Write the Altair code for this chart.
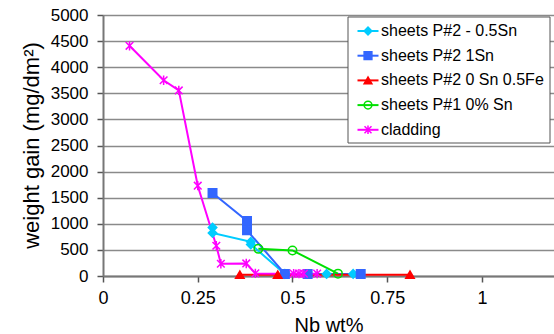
import altair as alt
import pandas as pd

series_names = ["sheets P#2 - 0.5Sn", "sheets P#2 1Sn", "sheets P#2 0 Sn 0.5Fe",
                "sheets P#1 0% Sn", "cladding"]
series_colors = ["#00CCFF", "#3366FF", "#FF0000", "#00E000", "#FF00FF"]
series_fills = ["#00CCFF", "#3366FF", "#FF0000", "transparent", "#FF00FF"]
asterisk = "M-0.9,-0.9L0.9,0.9M-0.9,0.9L0.9,-0.9M0,-1.1L0,1.1"
series_shapes = ["diamond", "square", "triangle-up", "circle", asterisk]

s1_x = [0.289, 0.289, 0.390, 0.390, 0.480, 0.590, 0.660]
s1_y = [927, 824, 655, 605, 40, 40, 40]
s2_x = [0.289, 0.380, 0.380, 0.480, 0.540, 0.680]
s2_y = [1590, 1054, 875, 40, 40, 40]
s3_x = [0.361, 0.461, 0.810]
s3_y = [25, 25, 25]
s4_x = [0.410, 0.500, 0.620]
s4_y = [520, 490, 45]
s5_x = [0.070, 0.160, 0.200, 0.250, 0.299, 0.311, 0.378, 0.402, 0.503, 0.517, 0.530, 0.565]
s5_y = [4410, 3750, 3555, 1730, 580, 235, 240, 50, 45, 45, 45, 45]

xs = [s1_x, s2_x, s3_x, s4_x, s5_x]
ys = [s1_y, s2_y, s3_y, s4_y, s5_y]

x_ticks = [0, 0.25, 0.5, 0.75, 1]
y_ticks = list(range(0, 5001, 500))

rows = []
for name, sx, sy in zip(series_names, xs, ys):
    for i, (a, b) in enumerate(zip(sx, sy)):
        rows.append({"series": name, "nb": a, "gain": b, "ord": i})
df = pd.DataFrame(rows)
leg = pd.DataFrame({"series": series_names, "idx": list(range(len(series_names)))})

color_scale = alt.Scale(domain=series_names, range=series_colors)
fill_scale = alt.Scale(domain=series_names, range=series_fills)
shape_scale = alt.Scale(domain=series_names, range=series_shapes)

x_axis = alt.Axis(values=x_ticks, labelExpr="datum.value + ''", title="Nb wt%", grid=False,
                  labelFontSize=18, titleFontSize=20, tickSize=6,
                  labelPadding=7, titlePadding=8, domainColor="#777",
                  domainWidth=2, tickColor="#555", tickWidth=1.5,
                  labelColor="black", titleColor="black",
                  titleFontWeight="normal", labelFlush=False, labelOverlap=False)
y_axis = alt.Axis(values=y_ticks, format="d", title="weight gain (mg/dm²)", grid=True,
                  gridColor="#8a8a8a", gridWidth=1.3,
                  labelFontSize=17, titleFontSize=22, tickSize=6,
                  labelPadding=9, titleX=-60, titleY=130, titleAngle=270,
                  titleBaseline="bottom", titleAlign="center",
                  domainColor="#777",
                  domainWidth=2, tickColor="#555", tickWidth=1.5,
                  labelColor="black", titleColor="black",
                  titleFontWeight="normal", labelOverlap=False)
x_scale = alt.Scale(domain=[0, 1.19], nice=False)
y_scale = alt.Scale(domain=[0, 5000], nice=False)

base = alt.Chart(df)
lines = base.mark_line(strokeWidth=2).encode(
    x=alt.X("nb:Q", scale=x_scale, axis=x_axis),
    y=alt.Y("gain:Q", scale=y_scale, axis=y_axis),
    color=alt.Color("series:N", scale=color_scale, legend=None),
    detail="series:N",
    order="ord:Q",
)
points = base.mark_point(size=72, strokeWidth=1.5, opacity=1, fillOpacity=1).encode(
    x=alt.X("nb:Q", scale=x_scale, axis=x_axis),
    y=alt.Y("gain:Q", scale=y_scale, axis=y_axis),
    stroke=alt.Stroke("series:N", scale=color_scale, legend=None),
    fill=alt.Fill("series:N", scale=fill_scale, legend=None),
    shape=alt.Shape("series:N", scale=shape_scale, legend=None),
)

box = alt.Chart(pd.DataFrame({"a": [0]})).mark_rect(
    fill="white", stroke="#555", strokeWidth=1
).encode(x=alt.value(245), x2=alt.value(447), y=alt.value(2), y2=alt.value(128))

legbase = alt.Chart(leg).transform_calculate(ly="16 + 24.7 * datum.idx")
legline = legbase.mark_rule(strokeWidth=2).encode(
    x=alt.value(254.5), x2=alt.value(275.5),
    y=alt.Y("ly:Q", scale=None),
    color=alt.Color("series:N", scale=color_scale, legend=None),
)
legpt = legbase.mark_point(size=60, strokeWidth=1.5, opacity=1, fillOpacity=1).encode(
    x=alt.value(265),
    y=alt.Y("ly:Q", scale=None),
    stroke=alt.Stroke("series:N", scale=color_scale, legend=None),
    fill=alt.Fill("series:N", scale=fill_scale, legend=None),
    shape=alt.Shape("series:N", scale=shape_scale, legend=None),
)
legtxt = legbase.mark_text(align="left", baseline="middle", fontSize=16,
                           font="Liberation Sans", color="black").encode(
    x=alt.value(278),
    y=alt.Y("ly:Q", scale=None),
    text="series:N",
)

chart = alt.layer(lines, points, box, legline, legpt, legtxt).properties(
    width=451, height=261,
    autosize=alt.AutoSizeParams(type="none"),
    padding={"left": 103, "top": 15, "right": 0, "bottom": 58},
).configure_view(stroke=None).configure(
    font="Liberation Sans"
).configure_axis(labelFont="Liberation Sans", titleFont="Liberation Sans")

chart.save("out.html", embed_options={"renderer": "svg", "actions": False})
